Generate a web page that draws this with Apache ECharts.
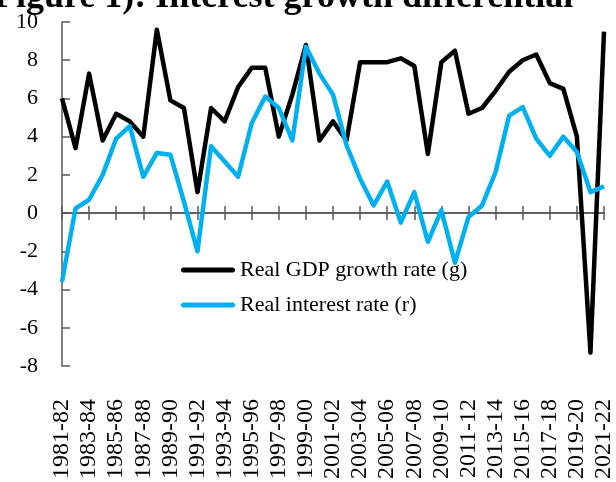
<!DOCTYPE html>
<html>
<head>
<meta charset="utf-8">
<script src="https://cdn.jsdelivr.net/npm/echarts@6/dist/echarts.min.js"></script>
<style>
  html, body { margin: 0; padding: 0; background: #fff; }
  #chart { width: 616px; height: 482px; }
</style>
</head>
<body>
<div id="chart"></div>
<script>
// fiscal years on the x axis
const years = [
  "1981-82", "1982-83", "1983-84", "1984-85", "1985-86", "1986-87", "1987-88", "1988-89",
  "1989-90", "1990-91", "1991-92", "1992-93", "1993-94", "1994-95", "1995-96", "1996-97",
  "1997-98", "1998-99", "1999-00", "2000-01", "2001-02", "2002-03", "2003-04", "2004-05",
  "2005-06", "2006-07", "2007-08", "2008-09", "2009-10", "2010-11", "2011-12", "2012-13",
  "2013-14", "2014-15", "2015-16", "2016-17", "2017-18", "2018-19", "2019-20", "2020-21",
  "2021-22"
];
// real GDP growth rate (g)
const gdpGrowth = [
  6.0, 3.4, 7.3, 3.8, 5.2, 4.8, 4.0, 9.6, 5.9, 5.5,
  1.1, 5.5, 4.8, 6.6, 7.6, 7.6, 4.0, 6.2, 8.8, 3.8,
  4.8, 3.8, 7.9, 7.9, 7.9, 8.1, 7.7, 3.1, 7.9, 8.5,
  5.2, 5.5, 6.4, 7.4, 8.0, 8.3, 6.8, 6.5, 4.0, -7.3,
  9.5
];
// real interest rate (r)
const interestRate = [
  -3.6, 0.25, 0.7, 2.0, 3.9, 4.55, 1.9, 3.15, 3.05, 0.6,
  -2.0, 3.5, 2.7, 1.9, 4.7, 6.1, 5.5, 3.8, 8.7, 7.3,
  6.2, 3.55, 1.8, 0.4, 1.65, -0.5, 1.1, -1.5, 0.15, -2.6,
  -0.2, 0.4, 2.15, 5.1, 5.55, 3.9, 3.0, 4.0, 3.2, 1.1,
  1.4
];
const titleText = "Figure 1): Interest growth differential";
const seriesNames = ["Real GDP growth rate (g)", "Real interest rate (r)"];

const serif = "Liberation Serif, Times New Roman, serif";
const axisGray = "#595959";

const chart = echarts.init(document.getElementById("chart"), null, { renderer: "canvas" });

const option = {
  animation: false,
  title: {
    // only the lower half of the title shows in the picture
    text: titleText,
    left: -6,
    top: -20,
    padding: 0,
    textStyle: { fontFamily: serif, fontSize: 36, fontWeight: "bold", color: "#000" }
  },
  grid: { left: 62, right: 9, top: 22, bottom: 116, containLabel: false },
  legend: {
    orient: "vertical",
    left: 181,
    top: 259,
    padding: 0,
    itemGap: 13,
    itemWidth: 54,
    itemHeight: 14,
    icon: "path://M2.5,4.5 L51.5,4.5 A2.5,2.5 0 0 1 51.5,9.5 L2.5,9.5 A2.5,2.5 0 0 1 2.5,4.5 Z",
    textStyle: { fontFamily: serif, fontSize: 22, color: "#000" },
    data: seriesNames
  },
  xAxis: [
    {
      // zero line with ticks pointing down
      type: "category",
      data: years,
      boundaryGap: false,
      position: "bottom",
      axisLine: { show: true, onZero: true, onZeroAxisIndex: 0, lineStyle: { color: axisGray, width: 1.5 } },
      axisTick: { show: true, interval: 1, inside: false, length: 7, lineStyle: { color: axisGray, width: 1.5 } },
      axisLabel: { show: false },
      splitLine: { show: false }
    },
    {
      // same ticks pointing up, so they cross the zero line
      type: "category",
      data: years,
      boundaryGap: false,
      position: "bottom",
      axisLine: { show: true, onZero: true, onZeroAxisIndex: 0, lineStyle: { color: axisGray, width: 1.5 } },
      axisTick: { show: true, interval: 1, inside: true, length: 7, lineStyle: { color: axisGray, width: 1.5 } },
      axisLabel: { show: false },
      splitLine: { show: false }
    },
    {
      // labels sit below the plot area
      type: "category",
      data: years,
      boundaryGap: false,
      position: "bottom",
      axisLine: { show: false, onZero: false },
      axisTick: { show: false },
      axisLabel: {
        interval: 1,
        rotate: 90,
        margin: 33,
        fontFamily: serif,
        fontSize: 24,
        color: "#000"
      },
      splitLine: { show: false }
    }
  ],
  yAxis: {
    type: "value",
    min: -8,
    max: 10,
    interval: 2,
    axisLine: { show: true, onZero: false, lineStyle: { color: axisGray, width: 1.5 } },
    axisTick: { show: true, inside: true, length: 8, lineStyle: { color: axisGray, width: 1.5 } },
    axisLabel: { margin: 24, fontFamily: serif, fontSize: 22, color: "#000" },
    splitLine: { show: false }
  },
  series: [
    {
      name: seriesNames[0],
      type: "line",
      xAxisIndex: 0,
      data: gdpGrowth,
      symbol: "none",
      color: "#000000",
      lineStyle: { color: "#000000", width: 4.5, join: "round" }
    },
    {
      name: seriesNames[1],
      type: "line",
      xAxisIndex: 0,
      data: interestRate,
      symbol: "none",
      color: "#00B0F0",
      lineStyle: { color: "#00B0F0", width: 4.5, join: "round" }
    }
  ]
};

chart.setOption(option);
</script>
</body>
</html>
